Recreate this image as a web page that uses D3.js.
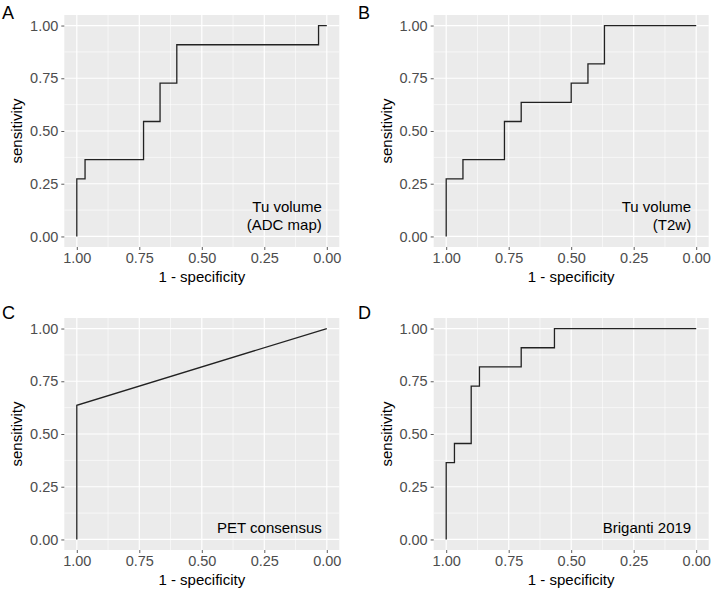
<!DOCTYPE html>
<html>
<head>
<meta charset="utf-8">
<script src="https://cdn.jsdelivr.net/npm/d3@7/dist/d3.min.js"></script>
<style>
  body { margin: 0; background: #fff; }
  svg { display: block; font-family: "Liberation Sans", Arial, sans-serif; }
</style>
</head>
<body>
<svg id="chart"></svg>
<script>
// ---------- DATA (specificity on x, reversed; sensitivity on y) ----------
const panelLabels = ["A", "B", "C", "D"];
const panelNotes = [["Tu volume", "(ADC map)"], ["Tu volume", "(T2w)"], ["PET consensus"], ["Briganti 2019"]];
const tickValues = [1, 0.75, 0.5, 0.25, 0];
const tickLabels = ["1.00", "0.75", "0.50", "0.25", "0.00"];

const specA = [1, 1, 0.967, 0.967, 0.733, 0.733, 0.667, 0.667, 0.600, 0.600, 0.033, 0.033, 0];
const sensA = [0, 0.273, 0.273, 0.364, 0.364, 0.545, 0.545, 0.727, 0.727, 0.909, 0.909, 1, 1];

const specB = [1, 1, 0.933, 0.933, 0.767, 0.767, 0.700, 0.700, 0.500, 0.500, 0.433, 0.433, 0.367, 0.367, 0];
const sensB = [0, 0.273, 0.273, 0.364, 0.364, 0.545, 0.545, 0.636, 0.636, 0.727, 0.727, 0.818, 0.818, 1, 1];

const specC = [1, 1, 0];
const sensC = [0, 0.636, 1];

const specD = [1, 1, 0.967, 0.967, 0.900, 0.900, 0.867, 0.867, 0.700, 0.700, 0.567, 0.567, 0];
const sensD = [0, 0.364, 0.364, 0.455, 0.455, 0.727, 0.727, 0.818, 0.818, 0.909, 0.909, 1, 1];

const specs = [specA, specB, specC, specD];
const senss = [sensA, sensB, sensC, sensD];

// ---------- LAYOUT ----------
const width = 712, height = 595;
// plot panel boxes (grey area) per facet
const boxes = [
  { x0: 64.3, x1: 339.3, y0: 15, y1: 247, ox: 0, oy: 0 },
  { x0: 433.7, x1: 708.7, y0: 15, y1: 247, ox: 356, oy: 0 },
  { x0: 64.3, x1: 339.3, y0: 318, y1: 550, ox: 0, oy: 300 },
  { x0: 433.7, x1: 708.7, y0: 318, y1: 550, ox: 356, oy: 300 }
];

const svg = d3.select("#chart").attr("width", width).attr("height", height);

boxes.forEach((b, i) => {
  const g = svg.append("g");

  // ggplot-like 5% expansion
  const x = d3.scaleLinear().domain([1.05, -0.05]).range([b.x0, b.x1]);
  const y = d3.scaleLinear().domain([-0.05, 1.05]).range([b.y1, b.y0]);

  // background
  g.append("rect")
    .attr("x", b.x0).attr("y", b.y0)
    .attr("width", b.x1 - b.x0).attr("height", b.y1 - b.y0)
    .attr("fill", "#EBEBEB");

  // minor grid
  const minor = [0.125, 0.375, 0.625, 0.875];
  g.selectAll(".mx").data(minor).join("line")
    .attr("x1", d => x(d)).attr("x2", d => x(d))
    .attr("y1", b.y0).attr("y2", b.y1)
    .attr("stroke", "#fff").attr("stroke-width", 0.6);
  g.selectAll(".my").data(minor).join("line")
    .attr("y1", d => y(d)).attr("y2", d => y(d))
    .attr("x1", b.x0).attr("x2", b.x1)
    .attr("stroke", "#fff").attr("stroke-width", 0.6);

  // major grid
  g.selectAll(".gx").data(tickValues).join("line")
    .attr("x1", d => x(d)).attr("x2", d => x(d))
    .attr("y1", b.y0).attr("y2", b.y1)
    .attr("stroke", "#fff").attr("stroke-width", 1.2);
  g.selectAll(".gy").data(tickValues).join("line")
    .attr("y1", d => y(d)).attr("y2", d => y(d))
    .attr("x1", b.x0).attr("x2", b.x1)
    .attr("stroke", "#fff").attr("stroke-width", 1.2);

  // axes
  const fmt = d => tickLabels[tickValues.indexOf(d)];
  const xAxis = g.append("g")
    .attr("transform", `translate(0,${b.y1})`)
    .call(d3.axisBottom(x).tickValues(tickValues).tickFormat(fmt).tickSize(3).tickPadding(3));
  const yAxis = g.append("g")
    .attr("transform", `translate(${b.x0},0)`)
    .call(d3.axisLeft(y).tickValues(tickValues).tickFormat(fmt).tickSize(3).tickPadding(3));
  [xAxis, yAxis].forEach(a => {
    a.select(".domain").remove();
    a.selectAll(".tick line").attr("stroke", "#333333").attr("stroke-width", 0.8);
    a.selectAll(".tick text")
      .attr("fill", "#4D4D4D")
      .style("font-size", "14.5px")
      .style("font-family", "'Liberation Sans', Arial, sans-serif");
  });

  // ROC path
  const pts = specs[i].map((s, k) => [s, senss[i][k]]);
  const line = d3.line().x(d => x(d[0])).y(d => y(d[1]));
  g.append("path")
    .datum(pts)
    .attr("d", line)
    .attr("fill", "none")
    .attr("stroke", "#222")
    .attr("stroke-width", 1.3);

  // annotation, right-aligned near bottom-right
  const notes = panelNotes[i];
  notes.forEach((t, k) => {
    g.append("text")
      .attr("x", x(0.02))
      .attr("y", b.y1 - 17 - (notes.length - 1 - k) * 18)
      .attr("text-anchor", "end")
      .attr("fill", "#000")
      .style("font-size", "15px")
      .text(t);
  });

  // axis titles
  g.append("text")
    .attr("x", (b.x0 + b.x1) / 2)
    .attr("y", b.y1 + 35)
    .attr("text-anchor", "middle")
    .style("font-size", "15px")
    .text("1 - specificity");
  g.append("text")
    .attr("transform", `translate(${b.x0 - 42},${(b.y0 + b.y1) / 2}) rotate(-90)`)
    .attr("text-anchor", "middle")
    .style("font-size", "15px")
    .text("sensitivity");

  // panel label
  g.append("text")
    .attr("x", b.ox + 2)
    .attr("y", b.oy + 18.5)
    .style("font-size", "18px")
    .text(panelLabels[i]);
});
</script>
</body>
</html>
